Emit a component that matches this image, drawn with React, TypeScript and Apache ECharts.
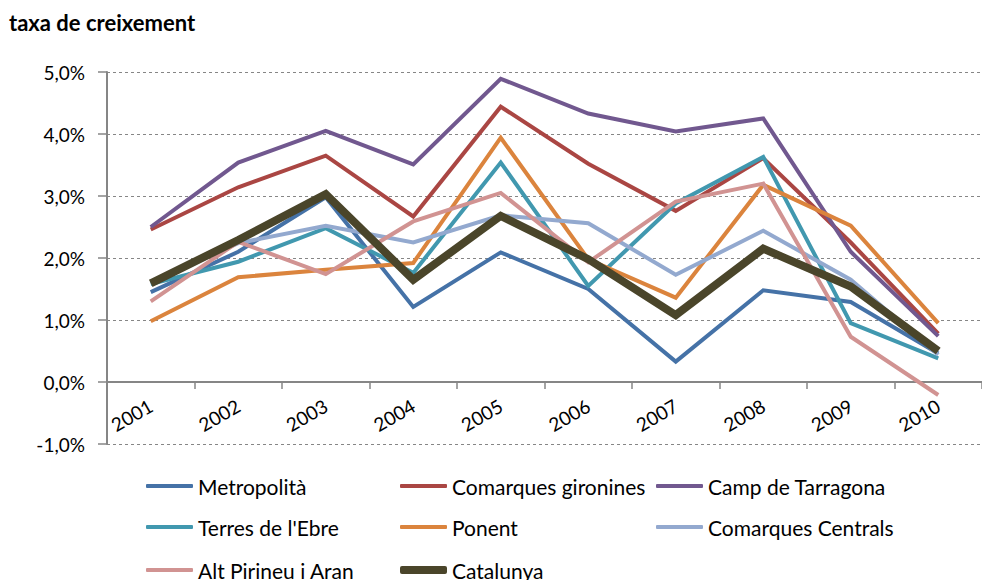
import React, { useEffect, useRef } from "react";
import * as echarts from "echarts";

const years = ["2001", "2002", "2003", "2004", "2005", "2006", "2007", "2008", "2009", "2010"];

const metropolita = [1.45, 2.1, 2.98, 1.21, 2.09, 1.5, 0.33, 1.48, 1.29, 0.46];
const gironines = [2.46, 3.14, 3.65, 2.67, 4.44, 3.52, 2.76, 3.61, 2.25, 0.78];
const tarragona = [2.5, 3.54, 4.05, 3.51, 4.89, 4.33, 4.04, 4.25, 2.1, 0.74];
const ebre = [1.58, 1.94, 2.48, 1.76, 3.54, 1.55, 2.88, 3.63, 0.95, 0.38];
const ponent = [0.98, 1.69, 1.81, 1.92, 3.94, 1.98, 1.36, 3.18, 2.52, 0.95];
const centrals = [1.6, 2.24, 2.52, 2.25, 2.69, 2.56, 1.73, 2.44, 1.65, 0.44];
const pirineu = [1.3, 2.26, 1.74, 2.59, 3.05, 1.93, 2.91, 3.2, 0.73, -0.21];
const catalunya = [1.59, 2.29, 3.03, 1.65, 2.68, 1.98, 1.08, 2.15, 1.54, 0.5];

const seriesDefs = [
  { name: "Metropolità", data: metropolita, color: "#4572A7", width: 4 },
  { name: "Comarques gironines", data: gironines, color: "#AA4643", width: 4 },
  { name: "Camp de Tarragona", data: tarragona, color: "#71588F", width: 4 },
  { name: "Terres de l'Ebre", data: ebre, color: "#4198AF", width: 4 },
  { name: "Ponent", data: ponent, color: "#DB843D", width: 4 },
  { name: "Comarques Centrals", data: centrals, color: "#93A9CF", width: 4 },
  { name: "Alt Pirineu i Aran", data: pirineu, color: "#D19392", width: 4 },
  { name: "Catalunya", data: catalunya, color: "#4A452A", width: 8 },
];

// legend slot for each series: [left of icon, vertical centre of row]
const legendSlots: Record<string, [number, number]> = {
  "Metropolità": [146, 486],
  "Comarques gironines": [400, 486],
  "Camp de Tarragona": [656, 486],
  "Terres de l'Ebre": [146, 527],
  "Ponent": [400, 527],
  "Comarques Centrals": [656, 527],
  "Alt Pirineu i Aran": [146, 570],
  "Catalunya": [400, 570],
};

const FONT = "Lato, 'Noto Sans', sans-serif";
const AXIS_COLOR = "#868686";

export default function App() {
  const ref = useRef<HTMLDivElement>(null);

  useEffect(() => {
    if (!ref.current) return;
    const chart = echarts.init(ref.current, null, { renderer: "svg" });

    const legends = seriesDefs.map((s) => {
      const [l, cy] = legendSlots[s.name];
      return {
        orient: "horizontal" as const,
        left: l,
        top: cy - 11,
        itemWidth: 47,
        itemHeight: s.width === 8 ? 8 : 4,
        icon: "roundRect",
        padding: 0,
        selectedMode: false,
        textStyle: { fontFamily: FONT, fontSize: 21, color: "#000", lineHeight: 22 },
        data: [s.name],
      };
    });

    chart.setOption({
      animation: false,
      backgroundColor: "#fff",
      title: {
        text: "taxa de creixement",
        left: 9,
        top: 10,
        padding: 0,
        textStyle: { fontFamily: FONT, fontSize: 22, fontWeight: "bold", color: "#000", lineHeight: 24 },
      },
      grid: { left: 107, top: 72, width: 887, height: 372 },
      xAxis: {
        type: "category",
        data: years,
        boundaryGap: true,
        offset: -62,
        axisLine: { show: true, onZero: false, lineStyle: { color: AXIS_COLOR, width: 2 } },
        axisTick: { show: true, length: 7, lineStyle: { color: AXIS_COLOR, width: 1.5 } },
        axisLabel: { rotate: 30, margin: 22, interval: 0, fontFamily: FONT, fontSize: 19, color: "#000" },
        splitLine: { show: false },
      },
      yAxis: {
        type: "value",
        min: -1,
        max: 5,
        interval: 1,
        axisLine: { show: true, lineStyle: { color: AXIS_COLOR, width: 2 } },
        axisTick: { show: true, length: 9, lineStyle: { color: AXIS_COLOR, width: 1.5 } },
        axisLabel: {
          margin: 22,
          fontFamily: FONT,
          fontSize: 19,
          color: "#000",
          formatter: (v: number) => v.toFixed(1).replace(".", ",") + "%",
        },
        splitLine: { show: true, lineStyle: { color: AXIS_COLOR, width: 1, type: [3, 3] } },
      },
      legend: legends,
      series: seriesDefs.map((s, i) => ({
        name: s.name,
        type: "line",
        data: s.data,
        symbol: "none",
        showSymbol: false,
        z: 2 + i,
        itemStyle: { color: s.color },
        lineStyle: { color: s.color, width: s.width, join: "miter" },
        emphasis: { disabled: true },
      })),
    });

    return () => chart.dispose();
  }, []);

  return (
    <div
      ref={ref}
      style={{ position: "fixed", left: 0, top: 0, width: 982, height: 580, background: "#fff" }}
    />
  );
}
